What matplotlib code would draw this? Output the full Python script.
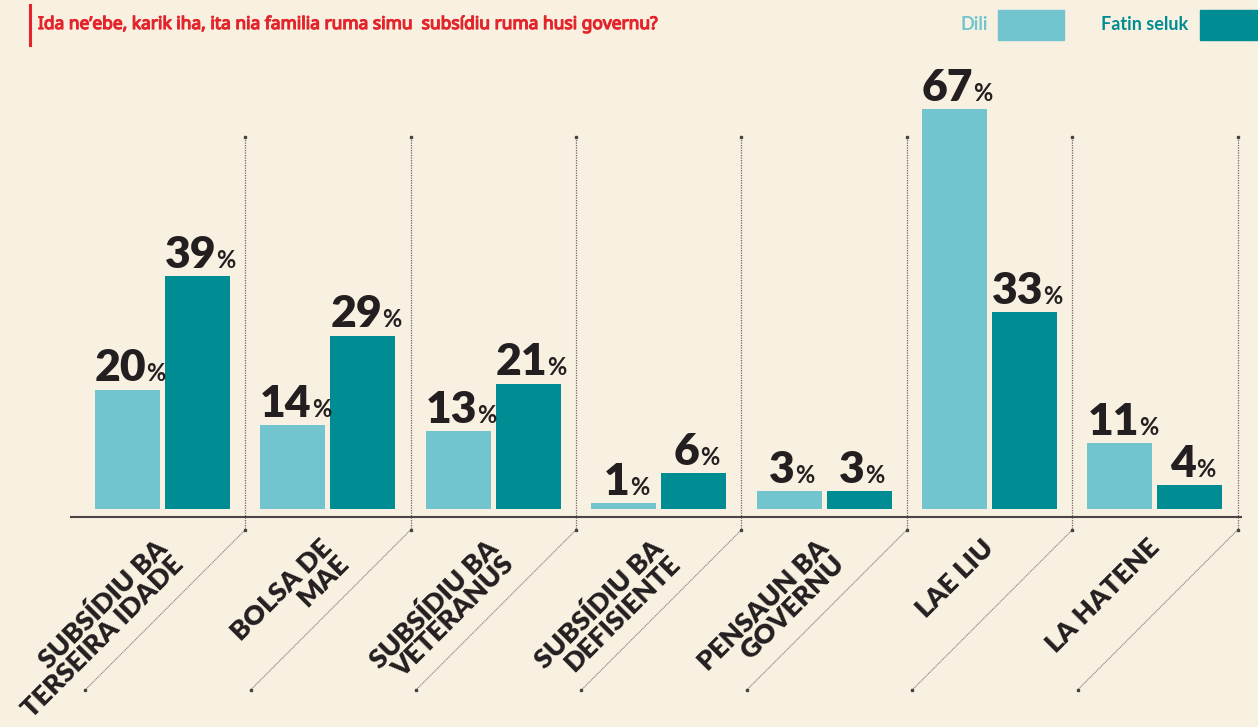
import matplotlib
matplotlib.use("Agg")
import matplotlib.pyplot as plt
import matplotlib.patheffects as pe
from matplotlib.offsetbox import TextArea, HPacker, AnnotationBbox

# data
categories = ["SUBSÍDIU BA\nTERSEIRA IDADE", "BOLSA DE\nMAE", "SUBSÍDIU BA\nVETERANUS",
              "SUBSÍDIU BA\nDEFISIENTE", "PENSAUN BA\nGOVERNU", "LAE LIU", "LA HATENE"]
dili = [20, 14, 13, 1, 3, 67, 11]
fatin_seluk = [39, 29, 21, 6, 3, 33, 4]
series_names = ["Dili", "Fatin seluk"]
title = "Ida ne’ebe, karik iha, ita nia familia ruma simu  subsídiu ruma husi governu?"

bg = "#F8F0E1"
c_light = "#72C4CE"
c_dark = "#008C93"
c_text = "#231F20"
c_red = "#E3242B"
font = ["Lato", "DejaVu Sans"]

fig = plt.figure(figsize=(12.58, 7.27), dpi=100, facecolor=bg)
ax = fig.add_axes([0.05644, 0.29986, 0.9300, 0.5748])
ax.set_facecolor(bg)
ax.set_xlim(-0.553, 6.52)
ax.set_ylim(0, 70)
for s in ax.spines.values():
    s.set_visible(False)
ax.set_xticks([])
ax.set_yticks([])

w = 0.393
off = 0.2116
x = list(range(len(categories)))
ax.bar([i - off for i in x], dili, width=w, color=c_light, zorder=2)
ax.bar([i + off for i in x], fatin_seluk, width=w, color=c_dark, zorder=2)

def value_label(xpos, v):
    big = TextArea(str(v), textprops=dict(fontsize=32, fontweight="heavy", color=c_text, family=font))
    small = TextArea("%", textprops=dict(fontsize=17, fontweight="bold", color=c_text, family=font))
    box = HPacker(children=[big, small], align="baseline", pad=0, sep=0)
    ab = AnnotationBbox(box, (xpos, v), xybox=(2, 1), xycoords="data", boxcoords="offset points",
                        box_alignment=(0.5, 0), frameon=False, annotation_clip=False)
    ax.add_artist(ab)

for i in x:
    value_label(i - off, dili[i])
    value_label(i + off, fatin_seluk[i])

# base line
ax.axhline(-1.34, color="#4D4545", lw=1.5, clip_on=False, zorder=3)

# separators with diagonal leaders
for i in x:
    sx = i + 0.5
    ax.plot([sx, sx], [62.3, -3.5], color="#6E6868", lw=0.9, ls=(0, (1, 1)), clip_on=False)
    ax.plot([sx, sx - 0.967], [-3.5, -30.3], color="#8A8484", lw=0.8, ls=(0, (1, 0.6)), clip_on=False)
    ax.plot([sx, sx], [62.3, -3.5], ls="none", marker="s", ms=1.5, color="#444", clip_on=False)
    ax.plot([sx - 0.967], [-30.3], ls="none", marker="s", ms=1.5, color="#444", clip_on=False)

# category labels
for i, lab in zip(x, categories):
    ax.text(i - 0.05, -4.4, lab, rotation=45, rotation_mode="anchor", ha="right", va="top",
            multialignment="right", fontsize=19.5, fontweight="heavy", color=c_text,
            family=font, linespacing=0.92)

# title with red bar (condensed face, thickened with a stroke)
fig.add_artist(plt.Line2D([30 / 1258, 30 / 1258], [1 - 5 / 727, 1 - 45 / 727], color=c_red, lw=2.2))
fig.text(38 / 1258, 1 - 24 / 727, title, ha="left", va="center", fontsize=12.5,
         fontstretch="condensed", color=c_red, family=["Noto Sans", "DejaVu Sans"],
         path_effects=[pe.withStroke(linewidth=0.9, foreground=c_red)])

# legend
fig.text(988 / 1258, 1 - 25 / 727, series_names[0], ha="right", va="center", fontsize=13,
         fontweight="bold", color=c_light, family=font)
fig.patches.append(plt.Rectangle((998 / 1258, 1 - 40 / 727), 66 / 1258, 30 / 727,
                                 transform=fig.transFigure, color=c_light))
fig.text(1188 / 1258, 1 - 25 / 727, series_names[1], ha="right", va="center", fontsize=13,
         fontweight="bold", color=c_dark, family=font)
fig.patches.append(plt.Rectangle((1200 / 1258, 1 - 40 / 727), 58 / 1258, 30 / 727,
                                 transform=fig.transFigure, color=c_dark))

fig.savefig("out.png", dpi=100, facecolor=bg)
